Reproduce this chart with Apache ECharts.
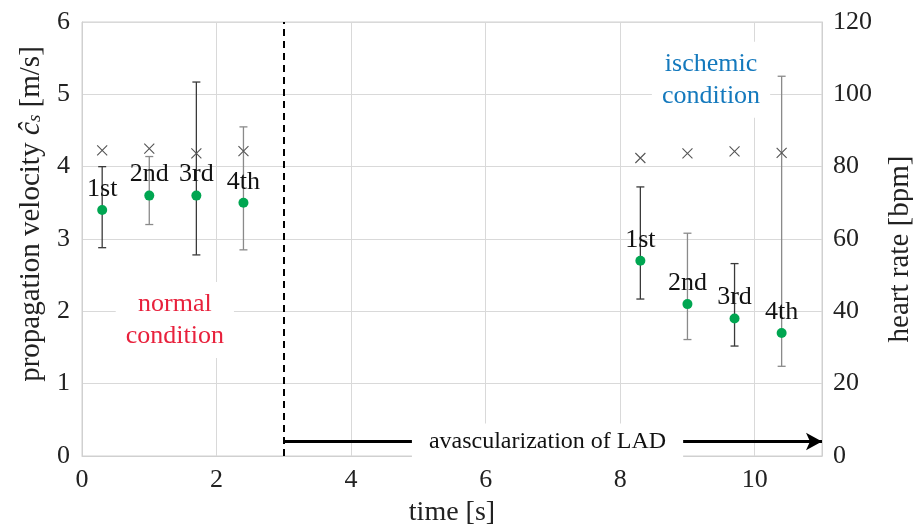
<!DOCTYPE html>
<html>
<head>
<meta charset="utf-8">
<script src="https://cdn.jsdelivr.net/npm/echarts@6/dist/echarts.min.js"></script>
<style>
  html, body { margin: 0; padding: 0; background: #fff; }
  #chart { width: 913px; height: 527px; }
</style>
</head>
<body>
<div id="chart"></div>
<script>
// measurement times [s]: four beats before and four after the LAD avascularization
const times = [0.3, 1.0, 1.7, 2.4, 8.3, 9.0, 9.7, 10.4]
const beatLabels = ['1st', '2nd', '3rd', '4th', '1st', '2nd', '3rd', '4th']
// propagation velocity [m/s] with error bar limits
const velocity = [3.4, 3.6, 3.6, 3.5, 2.7, 2.1, 1.9, 1.7]
const velocityHigh = [4.0, 4.14, 5.17, 4.55, 3.72, 3.08, 2.66, 5.25]
const velocityLow = [2.88, 3.2, 2.78, 2.85, 2.17, 1.61, 1.52, 1.24]
// heart rate [bpm]
const heartRate = [84.5, 85, 83.7, 84.3, 82.4, 83.7, 84.2, 83.8]
// event and annotations
const occlusionTime = 3
const arrowLevel = 0.2
const annotations = [
  { text: 'normal\ncondition', x: 1.38, y: 1.88, color: '#e8213c', size: 26, padding: [6, 10] },
  { text: 'ischemic\ncondition', x: 9.35, y: 5.2, color: '#1479bd', size: 26, padding: [6, 10] },
  { text: 'avascularization of LAD', x: 6.92, y: arrowLevel, color: '#111', size: 24, padding: [2, 17] },
]

const serif = 'Liberation Serif'
const chart = echarts.init(document.getElementById('chart'))

const errorBarColor = idx => (idx % 2 === 0 ? '#3a3a3a' : '#8a8a8a')

const option = {
  backgroundColor: '#fff',
  animation: false,
  textStyle: { fontFamily: serif },
  grid: {
    left: 82, right: 91, top: 22, bottom: 71,
    outerBoundsMode: 'none',
    containLabel: false,
    show: true, borderColor: '#d0d0d0', borderWidth: 1,
  },
  xAxis: {
    type: 'value',
    min: 0, max: 11, interval: 2,
    name: 'time [s]',
    nameLocation: 'middle',
    nameGap: 43,
    nameTextStyle: { fontFamily: serif, fontSize: 28, color: '#222' },
    axisLine: { lineStyle: { color: '#d0d0d0' } },
    axisTick: { show: false },
    axisLabel: { fontFamily: serif, fontSize: 26, color: '#222', margin: 11, showMaxLabel: false },
    splitLine: { lineStyle: { color: '#d9d9d9' } },
  },
  yAxis: [
    {
      type: 'value',
      min: 0, max: 6, interval: 1,
      name: 'propagation velocity {i|ĉ}{s|s} [m/s]',
      nameLocation: 'middle',
      nameGap: 35,
      nameRotate: 90,
      nameTextStyle: {
        fontFamily: serif, fontSize: 29, color: '#222',
        padding: [0, 0, 0, 50],
        rich: {
          i: { fontFamily: serif, fontSize: 30, fontStyle: 'italic', color: '#222' },
          s: { fontFamily: serif, fontSize: 19, fontStyle: 'italic', color: '#222', padding: [8, 0, 0, 0] },
        },
      },
      axisLine: { show: true, lineStyle: { color: '#d0d0d0' } },
      axisTick: { show: false },
      axisLabel: { fontFamily: serif, fontSize: 26, color: '#222', margin: 12 },
      splitLine: { lineStyle: { color: '#d9d9d9' } },
    },
    {
      type: 'value',
      min: 0, max: 120, interval: 20,
      name: 'heart rate [bpm]',
      nameLocation: 'middle',
      nameGap: 64,
      nameRotate: 90,
      nameTextStyle: { fontFamily: serif, fontSize: 29, color: '#222', padding: [0, 20, 0, 0] },
      axisLine: { show: true, lineStyle: { color: '#d0d0d0' } },
      axisTick: { show: false },
      axisLabel: { fontFamily: serif, fontSize: 26, color: '#222', margin: 11 },
      splitLine: { show: false },
    },
  ],
  series: [
    {
      // dashed occlusion marker and avascularization arrow
      type: 'line',
      data: [],
      z: 1,
      markLine: {
        silent: true,
        animation: false,
        label: { show: false },
        data: [
          [
            { coord: [occlusionTime, 0], symbol: 'none', lineStyle: { color: '#000', width: 2, type: [7, 5] } },
            { coord: [occlusionTime, 6], symbol: 'none' },
          ],
          [
            { coord: [occlusionTime, arrowLevel], symbol: 'none', lineStyle: { color: '#000', width: 3, type: 'solid' } },
            { coord: [11, arrowLevel], symbol: 'arrow', symbolSize: [13, 16] },
          ],
        ],
      },
    },
    {
      type: 'custom',
      name: 'error',
      z: 3,
      data: times.map((t, i) => [t, velocityLow[i], velocityHigh[i]]),
      renderItem: (params, api) => {
        const x = api.value(0)
        const lo = api.coord([x, api.value(1)])
        const hi = api.coord([x, api.value(2)])
        const cap = 4
        const style = { stroke: errorBarColor(params.dataIndex), lineWidth: 1.3 }
        return {
          type: 'group',
          children: [
            { type: 'line', shape: { x1: lo[0], y1: lo[1], x2: hi[0], y2: hi[1] }, style },
            { type: 'line', shape: { x1: hi[0] - cap, y1: hi[1], x2: hi[0] + cap, y2: hi[1] }, style },
            { type: 'line', shape: { x1: lo[0] - cap, y1: lo[1], x2: lo[0] + cap, y2: lo[1] }, style },
          ],
        }
      },
    },
    {
      type: 'scatter',
      name: 'heart rate',
      yAxisIndex: 1,
      z: 4,
      symbol: 'path://M0,0L10,10M10,0L0,10',
      symbolSize: 10,
      itemStyle: { color: 'none', borderColor: '#555', borderWidth: 1.1, opacity: 1 },
      data: times.map((t, i) => [t, heartRate[i]]),
    },
    {
      type: 'scatter',
      name: 'velocity',
      z: 5,
      symbolSize: 10,
      itemStyle: { color: '#00a651', opacity: 1 },
      label: {
        show: true,
        position: 'top',
        distance: 3,
        fontFamily: serif,
        fontSize: 26,
        color: '#111',
        formatter: p => beatLabels[p.dataIndex],
      },
      data: times.map((t, i) => [t, velocity[i]]),
    },
    {
      type: 'scatter',
      name: 'annotations',
      z: 10,
      symbolSize: 0,
      silent: true,
      itemStyle: { opacity: 1 },
      data: annotations.map(a => ({
        value: [a.x, a.y],
        label: { color: a.color, fontSize: a.size, padding: a.padding },
      })),
      label: {
        show: true,
        position: 'inside',
        fontFamily: serif,
        lineHeight: 32,
        align: 'center',
        verticalAlign: 'middle',
        backgroundColor: '#fff',
        formatter: p => annotations[p.dataIndex].text,
      },
    },
  ],
}

chart.setOption(option)
</script>
</body>
</html>
